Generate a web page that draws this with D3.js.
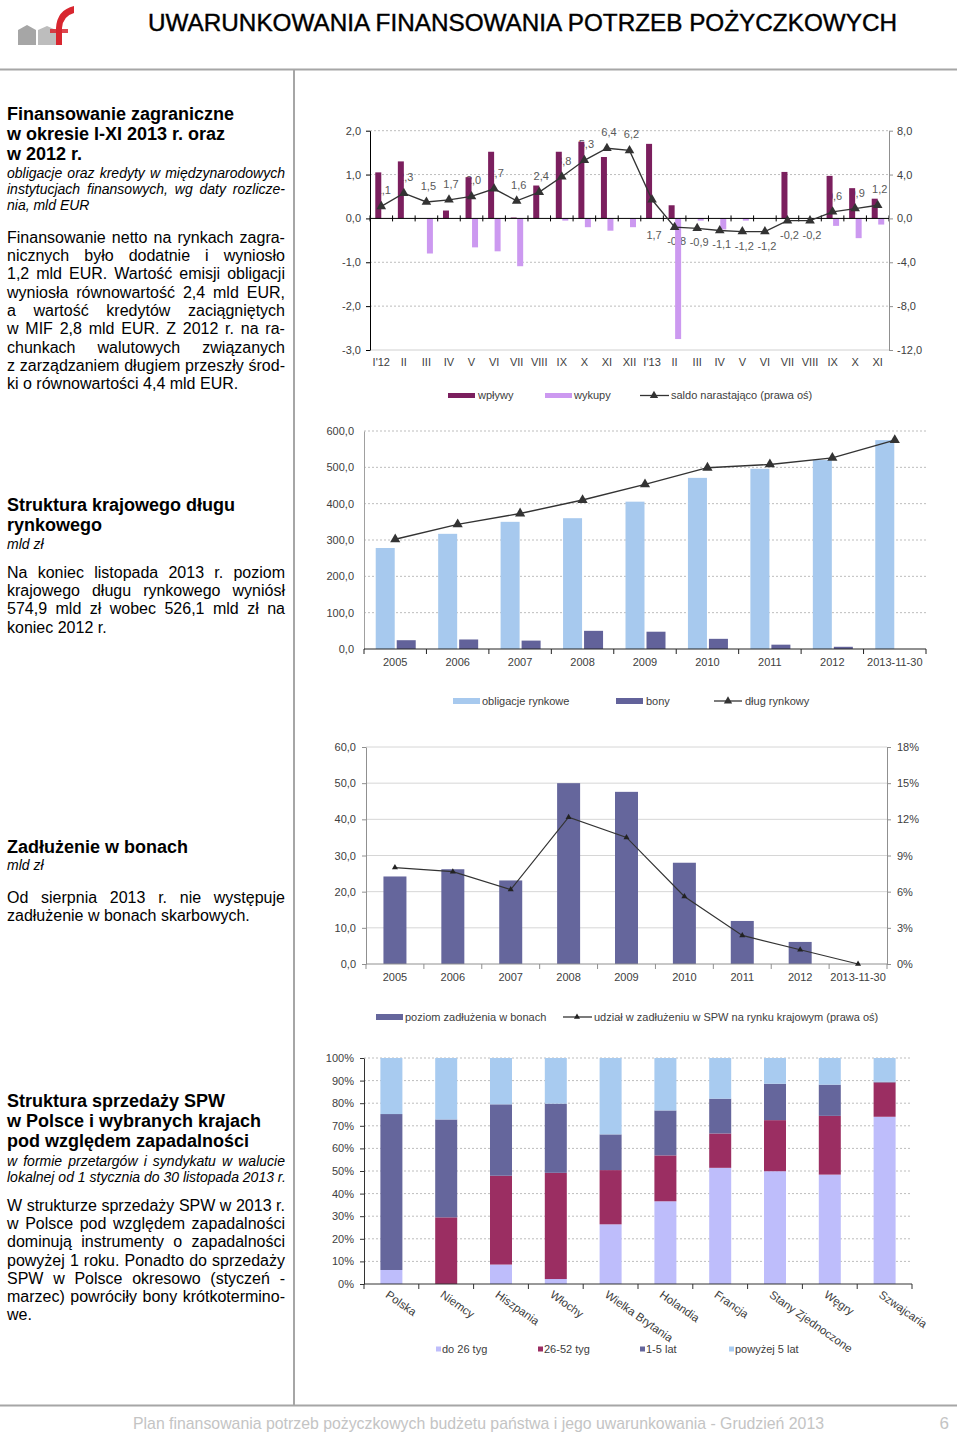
<!DOCTYPE html>
<html>
<head>
<meta charset="utf-8">
<script src="https://cdn.jsdelivr.net/npm/d3@7"></script>
<style>
  body { margin: 0; background: #fff; }
  #page { position: relative; width: 960px; height: 1433px; overflow: hidden; font-family: "Liberation Sans", Arial, sans-serif; }
  #page svg { position: absolute; left: 0; top: 0; }
  .ln { position: absolute; left: 7px; width: 278px; white-space: pre; color: #000; }
  .ln.j { display: flex; justify-content: space-between; }
  .h { font-weight: bold; font-size: 18px; line-height: 20px; }
  .i { font-style: italic; font-size: 14px; line-height: 16px; }
  .b { font-size: 16px; line-height: 18px; }
</style>
</head>
<body>
<div id="page"></div>
<script>
// ---- chart 1: finansowanie zagraniczne (mld EUR) ----
const months = ["I'12", "II", "III", "IV", "V", "VI", "VII", "VIII", "IX", "X", "XI", "XII",
  "I'13", "II", "III", "IV", "V", "VI", "VII", "VIII", "IX", "X", "XI"];
const wplywy = [1.05, 1.30, 0, 0.18, 0.94, 1.52, 0.02, 0.75, 1.52, 1.75, 1.40, 0,
  1.70, 0.30, 0, 0, 0, 0, 1.06, 0, 0.97, 0.69, 0.45];
const wykupy = [0, 0, -0.80, 0, -0.66, -0.75, -1.09, 0, -0.05, -0.20, -0.28, -0.20,
  0, -2.75, -0.05, -0.25, -0.05, 0, 0, 0, -0.17, -0.45, -0.14];
const saldo = [1.1, 2.3, 1.5, 1.7, 2.0, 2.7, 1.6, 2.4, 3.8, 5.3, 6.4, 6.2,
  1.7, -0.8, -0.9, -1.1, -1.2, -1.2, -0.2, -0.2, 0.6, 0.9, 1.2];

// ---- chart 2 & 3: dług rynkowy, bony (mld zł) ----
const years = ["2005", "2006", "2007", "2008", "2009", "2010", "2011", "2012", "2013-11-30"];
const obligacje = [278, 317, 350, 360, 405.5, 471, 496, 520, 574.9];
const bony = [24.2, 26.2, 23.1, 50.0, 47.6, 28.0, 11.9, 6.1, 0];
const dlugRynkowy = [302, 343, 373, 410, 453, 499, 508, 526.1, 574.9];
const udzialBony = [0.080, 0.0766, 0.0617, 0.1218, 0.105, 0.056, 0.0237, 0.0118, 0];

// ---- chart 4: struktura zapadalności (%) ----
const countries = ["Polska", "Niemcy", "Hiszpania", "Włochy", "Wielka Brytania", "Holandia",
  "Francja", "Stany Zjednoczone", "Węgry", "Szwajcaria"];
const do26tyg = [6.2, 0, 8.6, 2.2, 26.4, 36.6, 51.4, 49.9, 48.4, 74.0];
const tyg26do52 = [0, 29.5, 39.3, 47.0, 24.0, 20.3, 15.2, 22.6, 26.0, 15.2];
const lat1do5 = [69.0, 43.3, 31.6, 30.6, 15.8, 19.9, 15.4, 16.1, 13.8, 0.3];
const powyzej5 = [24.8, 27.2, 20.5, 20.2, 33.8, 23.2, 18.0, 11.4, 11.8, 10.5];

const FONT = '"Liberation Sans", Arial, sans-serif';
const TXT = '#404040';
const pl = d3.formatLocale({ decimal: ",", thousands: " ", grouping: [3], currency: ["", " zł"], minus: "-" });
const f1 = pl.format(".1f");
const fPct = pl.format(".0%");

const page = d3.select('#page');
const svg = page.append('svg').attr('width', 960).attr('height', 1433);

function styleAxis(sel, stroke) {
  sel.attr('font-family', FONT).attr('font-size', 11);
  sel.select('.domain').attr('stroke', stroke);
  sel.selectAll('.tick line').attr('stroke', stroke);
  sel.selectAll('.tick text').attr('fill', TXT);
}

function bandEdges(g, x, n, y0, up, down, stroke) {
  g.append('g').selectAll('line').data(d3.range(n + 1)).join('line')
    .attr('x1', i => x.range()[0] + i * x.step())
    .attr('x2', i => x.range()[0] + i * x.step())
    .attr('y1', y0 - up).attr('y2', y0 + down)
    .attr('stroke', stroke);
}

function legendText(g, x, y, t) {
  g.append('text').attr('x', x).attr('y', y).attr('font-family', FONT)
    .attr('font-size', 11).attr('fill', TXT).text(t);
}

// ---------- header / frame ----------
const logo = svg.append('g');
logo.append('path').attr('d', 'M18,45 L18,30 L27,25 L36,30 L36,45 Z').attr('fill', '#a6a6a6');
logo.append('path').attr('d', 'M38,45 L38,30 L47,26 L56,30 L56,45 Z').attr('fill', '#bdbdbd');
logo.append('path').attr('d', 'M56,45 L56,28 Q57,10 74,6 L74,13 Q63,16 62,28 L62,45 Z').attr('fill', '#d8262f');
logo.append('path').attr('d', 'M50,29 L68,29 L68,33 L50,33 Z').attr('fill', '#d8262f').attr('opacity', 0.85);

svg.append('text').attr('x', 148).attr('y', 31).attr('font-family', FONT).attr('font-size', 24)
  .attr('textLength', 749).attr('lengthAdjust', 'spacingAndGlyphs')
  .attr('fill', '#000').attr('stroke', '#000').attr('stroke-width', 0.4)
  .text('UWARUNKOWANIA FINANSOWANIA POTRZEB POŻYCZKOWYCH');

svg.append('line').attr('x1', 0).attr('x2', 957).attr('y1', 69.5).attr('y2', 69.5).attr('stroke', '#a6a6a6').attr('stroke-width', 2);
svg.append('line').attr('x1', 294).attr('x2', 294).attr('y1', 70).attr('y2', 1405).attr('stroke', '#a6a6a6').attr('stroke-width', 2);
svg.append('line').attr('x1', 0).attr('x2', 957).attr('y1', 1405.5).attr('y2', 1405.5).attr('stroke', '#a6a6a6').attr('stroke-width', 2);

svg.append('text').attr('x', 133).attr('y', 1429).attr('font-family', FONT).attr('font-size', 17)
  .attr('textLength', 691).attr('lengthAdjust', 'spacingAndGlyphs').attr('fill', '#c4c4c4')
  .text('Plan finansowania potrzeb pożyczkowych budżetu państwa i jego uwarunkowania - Grudzień 2013');
svg.append('text').attr('x', 949).attr('y', 1429).attr('font-family', FONT).attr('font-size', 17)
  .attr('text-anchor', 'end').attr('fill', '#c4c4c4').text('6');

// ---------- chart 1 ----------
{
  const g = svg.append('g');
  const x = d3.scaleBand().domain(d3.range(months.length)).range([370, 889]);
  const y = d3.scaleLinear().domain([-3, 2]).range([350, 130.7]);
  const yR = d3.scaleLinear().domain([-12, 8]).range([350, 130.7]);
  const cx = i => x(i) + x.bandwidth() / 2;
  const bw = 6;

  g.append('g').selectAll('line').data([2, 1, -1, -2]).join('line')
    .attr('x1', 370).attr('x2', 889).attr('y1', d => y(d)).attr('y2', d => y(d))
    .attr('stroke', '#bdbdbd').attr('stroke-dasharray', '2,2');
  g.append('line').attr('x1', 370).attr('x2', 889).attr('y1', y(-3)).attr('y2', y(-3)).attr('stroke', '#d0d0d0');

  // data labels sit under the bars, as in the source
  g.append('g').selectAll('text').data(saldo).join('text')
    .attr('x', (d, i) => cx(i) + 2)
    .attr('y', (d, i) => (i >= 12 && i < 20) ? Math.max(yR(d) + 14, yR(0) + 17) + 4 : yR(d) - 16 + 4)
    .attr('text-anchor', 'middle').attr('font-family', FONT).attr('font-size', 11).attr('fill', '#595959')
    .text(d => f1(d));

  g.append('g').selectAll('rect').data(wplywy).join('rect')
    .attr('x', (d, i) => cx(i) - bw).attr('width', bw)
    .attr('y', d => y(Math.max(0, d))).attr('height', d => Math.abs(y(d) - y(0)))
    .attr('fill', '#7b1f5e');
  g.append('g').selectAll('rect').data(wykupy).join('rect')
    .attr('x', (d, i) => cx(i) + 0.5).attr('width', bw)
    .attr('y', d => y(Math.max(0, d))).attr('height', d => Math.abs(y(d) - y(0)))
    .attr('fill', '#cc99f0');

  g.append('line').attr('x1', 370).attr('x2', 889).attr('y1', y(0)).attr('y2', y(0)).attr('stroke', '#000');
  bandEdges(g, x, months.length, y(0), 3, 3, '#000');

  const ax = g.append('g').attr('transform', 'translate(370,0)')
    .call(d3.axisLeft(y).tickValues([-3, -2, -1, 0, 1, 2]).tickSize(4).tickSizeOuter(0).tickPadding(5).tickFormat(f1));
  styleAxis(ax, '#000');
  const axR = g.append('g').attr('transform', 'translate(889,0)')
    .call(d3.axisRight(yR).tickValues([-12, -8, -4, 0, 4, 8]).tickSize(4).tickSizeOuter(0).tickPadding(4).tickFormat(f1));
  styleAxis(axR, '#909090');

  g.append('g').selectAll('text').data(months).join('text')
    .attr('x', (d, i) => cx(i)).attr('y', 366).attr('text-anchor', 'middle')
    .attr('font-family', FONT).attr('font-size', 11).attr('fill', TXT).text(d => d);

  const line = d3.line().x((d, i) => cx(i)).y(d => yR(d));
  g.append('path').datum(saldo).attr('d', line).attr('fill', 'none').attr('stroke', '#333').attr('stroke-width', 1.3);
  g.append('g').selectAll('path').data(saldo).join('path')
    .attr('transform', (d, i) => `translate(${cx(i)},${yR(d)})`)
    .attr('d', d3.symbol(d3.symbolTriangle, 40)).attr('fill', '#333');

  const lg = g.append('g');
  lg.append('rect').attr('x', 448).attr('y', 393).attr('width', 27).attr('height', 5).attr('fill', '#7b1f5e');
  legendText(lg, 478, 399, 'wpływy');
  lg.append('rect').attr('x', 545).attr('y', 393).attr('width', 27).attr('height', 5).attr('fill', '#cc99f0');
  legendText(lg, 574, 399, 'wykupy');
  lg.append('line').attr('x1', 640).attr('x2', 669).attr('y1', 395.5).attr('y2', 395.5).attr('stroke', '#333').attr('stroke-width', 1.3);
  lg.append('path').attr('transform', 'translate(654,395.5)').attr('d', d3.symbol(d3.symbolTriangle, 30)).attr('fill', '#333');
  legendText(lg, 671, 399, 'saldo narastająco (prawa oś)');
}

// ---------- chart 2 ----------
{
  const g = svg.append('g');
  const x = d3.scaleBand().domain(years).range([364, 926]);
  const y = d3.scaleLinear().domain([0, 600]).range([649, 431]);
  const cx = d => x(d) + x.bandwidth() / 2;

  g.append('g').selectAll('line').data([100, 200, 300, 400, 500, 600]).join('line')
    .attr('x1', 364).attr('x2', 926).attr('y1', d => y(d)).attr('y2', d => y(d))
    .attr('stroke', '#bdbdbd').attr('stroke-dasharray', '2,2');

  g.append('g').selectAll('rect').data(obligacje).join('rect')
    .attr('x', (d, i) => cx(years[i]) - 19.5).attr('width', 19)
    .attr('y', d => y(d)).attr('height', d => y(0) - y(d)).attr('fill', '#a7c9ee');
  g.append('g').selectAll('rect').data(bony).join('rect')
    .attr('x', (d, i) => cx(years[i]) + 1.5).attr('width', 19)
    .attr('y', d => y(d)).attr('height', d => y(0) - y(d)).attr('fill', '#62629a');

  const ax = g.append('g').attr('transform', 'translate(364,0)')
    .call(d3.axisLeft(y).tickValues([0, 100, 200, 300, 400, 500, 600]).tickSize(0).tickSizeOuter(0).tickPadding(10).tickFormat(f1));
  styleAxis(ax, '#a0a0a0');
  g.append('line').attr('x1', 364).attr('x2', 926).attr('y1', y(0)).attr('y2', y(0)).attr('stroke', '#222');
  bandEdges(g, x, years.length, y(0), 0, 5, '#222');

  g.append('g').selectAll('text').data(years).join('text')
    .attr('x', d => cx(d)).attr('y', 666).attr('text-anchor', 'middle')
    .attr('font-family', FONT).attr('font-size', 11).attr('fill', TXT).text(d => d);

  const line = d3.line().x((d, i) => cx(years[i])).y(d => y(d));
  g.append('path').datum(dlugRynkowy).attr('d', line).attr('fill', 'none').attr('stroke', '#333').attr('stroke-width', 1.4);
  g.append('g').selectAll('path').data(dlugRynkowy).join('path')
    .attr('transform', (d, i) => `translate(${cx(years[i])},${y(d)})`)
    .attr('d', d3.symbol(d3.symbolTriangle, 45)).attr('fill', '#333');

  const lg = g.append('g');
  lg.append('rect').attr('x', 453).attr('y', 698).attr('width', 27).attr('height', 6).attr('fill', '#a7c9ee');
  legendText(lg, 482, 705, 'obligacje rynkowe');
  lg.append('rect').attr('x', 616).attr('y', 698).attr('width', 27).attr('height', 6).attr('fill', '#62629a');
  legendText(lg, 646, 705, 'bony');
  lg.append('line').attr('x1', 714).attr('x2', 742).attr('y1', 701).attr('y2', 701).attr('stroke', '#333').attr('stroke-width', 1.3);
  lg.append('path').attr('transform', 'translate(728,701)').attr('d', d3.symbol(d3.symbolTriangle, 30)).attr('fill', '#333');
  legendText(lg, 745, 705, 'dług rynkowy');
}

// ---------- chart 3 ----------
{
  const g = svg.append('g');
  const x = d3.scaleBand().domain(years).range([366, 887]);
  const y = d3.scaleLinear().domain([0, 60]).range([964, 747]);
  const yR = d3.scaleLinear().domain([0, 0.18]).range([964, 747]);
  const cx = d => x(d) + x.bandwidth() / 2;

  g.append('g').selectAll('line').data([10, 20, 30, 40, 50, 60]).join('line')
    .attr('x1', 366).attr('x2', 887).attr('y1', d => y(d)).attr('y2', d => y(d))
    .attr('stroke', '#d6d6d6');

  g.append('g').selectAll('rect').data(bony).join('rect')
    .attr('x', (d, i) => cx(years[i]) - 11.5).attr('width', 23)
    .attr('y', d => y(d)).attr('height', d => y(0) - y(d)).attr('fill', '#65669c');

  const ax = g.append('g').attr('transform', 'translate(366,0)')
    .call(d3.axisLeft(y).tickValues([0, 10, 20, 30, 40, 50, 60]).tickSize(4).tickSizeOuter(0).tickPadding(6).tickFormat(f1));
  styleAxis(ax, '#909090');
  const axR = g.append('g').attr('transform', 'translate(887,0)')
    .call(d3.axisRight(yR).tickValues([0, 0.03, 0.06, 0.09, 0.12, 0.15, 0.18]).tickSize(4).tickSizeOuter(0).tickPadding(6).tickFormat(fPct));
  styleAxis(axR, '#909090');
  g.append('line').attr('x1', 366).attr('x2', 887).attr('y1', y(0)).attr('y2', y(0)).attr('stroke', '#909090');
  bandEdges(g, x, years.length, y(0), 0, 5, '#909090');

  g.append('g').selectAll('text').data(years).join('text')
    .attr('x', d => cx(d)).attr('y', 981).attr('text-anchor', 'middle')
    .attr('font-family', FONT).attr('font-size', 11).attr('fill', TXT).text(d => d);

  const line = d3.line().x((d, i) => cx(years[i])).y(d => yR(d));
  g.append('path').datum(udzialBony).attr('d', line).attr('fill', 'none').attr('stroke', '#333').attr('stroke-width', 1.2);
  g.append('g').selectAll('path').data(udzialBony).join('path')
    .attr('transform', (d, i) => `translate(${cx(years[i])},${yR(d)})`)
    .attr('d', d3.symbol(d3.symbolTriangle, 16)).attr('fill', '#222');

  const lg = g.append('g');
  lg.append('rect').attr('x', 376).attr('y', 1014).attr('width', 27).attr('height', 6).attr('fill', '#65669c');
  legendText(lg, 405, 1021, 'poziom zadłużenia w bonach');
  lg.append('line').attr('x1', 563).attr('x2', 592).attr('y1', 1017).attr('y2', 1017).attr('stroke', '#333').attr('stroke-width', 1.3);
  lg.append('path').attr('transform', 'translate(577,1017)').attr('d', d3.symbol(d3.symbolTriangle, 16)).attr('fill', '#222');
  legendText(lg, 594, 1021, 'udział w zadłużeniu w SPW na rynku krajowym (prawa oś)');
}

// ---------- chart 4 ----------
{
  const g = svg.append('g');
  const keys = ['do 26 tyg', '26-52 tyg', '1-5 lat', 'powyżej 5 lat'];
  const colors = ['#bebdfb', '#9b2e62', '#65669c', '#a8cbf0'];
  const series = [do26tyg, tyg26do52, lat1do5, powyzej5];
  const rows = countries.map((c, i) => {
    const r = { country: c };
    keys.forEach((k, j) => { r[k] = series[j][i]; });
    return r;
  });
  const stacked = d3.stack().keys(keys).offset(d3.stackOffsetExpand)(rows);
  const x = d3.scaleBand().domain(countries).range([364, 912]);
  const y = d3.scaleLinear().domain([0, 1]).range([1284, 1058]);
  const cx = d => x(d) + x.bandwidth() / 2;

  g.append('g').selectAll('line').data(d3.range(1, 11).map(d => d / 10)).join('line')
    .attr('x1', 364).attr('x2', 912).attr('y1', d => y(d)).attr('y2', d => y(d))
    .attr('stroke', '#bdbdbd').attr('stroke-dasharray', '2,2');

  g.append('g').selectAll('g').data(stacked).join('g')
    .attr('fill', (d, i) => colors[i])
    .selectAll('rect').data(d => d).join('rect')
    .attr('x', d => cx(d.data.country) - 11).attr('width', 22)
    .attr('y', d => y(d[1])).attr('height', d => y(d[0]) - y(d[1]));

  const ax = g.append('g').attr('transform', 'translate(364,0)')
    .call(d3.axisLeft(y).tickValues(d3.range(0, 11).map(d => d / 10)).tickSize(4).tickSizeOuter(0).tickPadding(6).tickFormat(fPct));
  styleAxis(ax, '#333');
  g.append('line').attr('x1', 364).attr('x2', 912).attr('y1', y(0)).attr('y2', y(0)).attr('stroke', '#333');
  bandEdges(g, x, countries.length, y(0), 0, 5, '#333');

  g.append('g').selectAll('text').data(countries).join('text')
    .attr('transform', d => `translate(${cx(d) - 2},${1290}) rotate(35)`)
    .attr('dy', '0.7em')
    .attr('font-family', FONT).attr('font-size', 11.5).attr('fill', TXT).text(d => d);

  const lg = g.append('g');
  const lx = [436, 538, 640, 729];
  keys.forEach((k, i) => {
    lg.append('rect').attr('x', lx[i]).attr('y', 1346.5).attr('width', 5).attr('height', 5).attr('fill', colors[i]);
    legendText(lg, lx[i] + 6, 1353, k);
  });
}

// ---------- left column text ----------
const blocks = [
  { cls: 'h', top: 114, lh: 20, lines: ["Finansowanie zagraniczne", "w okresie I-XI 2013 r. oraz", "w 2012 r."], just: false },
  { cls: 'i', top: 173, lh: 16, lines: ["obligacje oraz kredyty w międzynarodowych", "instytucjach finansowych, wg daty rozlicze-", "nia, mld EUR"], just: true },
  { cls: 'b', top: 238, lh: 18.3, lines: [
    "Finansowanie netto na rynkach zagra-",
    "nicznych było dodatnie i wyniosło",
    "1,2 mld EUR. Wartość emisji obligacji",
    "wyniosła równowartość 2,4 mld EUR,",
    "a wartość kredytów zaciągniętych",
    "w MIF 2,8 mld EUR. Z 2012 r. na ra-",
    "chunkach walutowych związanych",
    "z zarządzaniem długiem przeszły środ-",
    "ki o równowartości 4,4 mld EUR."], just: true },
  { cls: 'h', top: 505, lh: 20, lines: ["Struktura krajowego długu", "rynkowego"], just: false },
  { cls: 'i', top: 544, lh: 16, lines: ["mld zł"], just: false },
  { cls: 'b', top: 573, lh: 18.2, lines: [
    "Na koniec listopada 2013 r. poziom",
    "krajowego długu rynkowego wyniósł",
    "574,9 mld zł wobec 526,1 mld zł na",
    "koniec 2012 r."], just: true },
  { cls: 'h', top: 847, lh: 20, lines: ["Zadłużenie w bonach"], just: false },
  { cls: 'i', top: 865, lh: 16, lines: ["mld zł"], just: false },
  { cls: 'b', top: 898, lh: 18.2, lines: [
    "Od sierpnia 2013 r. nie występuje",
    "zadłużenie w bonach skarbowych."], just: true },
  { cls: 'h', top: 1101, lh: 20, lines: ["Struktura sprzedaży SPW", "w Polsce i wybranych krajach", "pod względem zapadalności"], just: false },
  { cls: 'i', top: 1161, lh: 16, lines: ["w formie przetargów i syndykatu w walucie", "lokalnej od 1 stycznia do 30 listopada 2013 r."], just: true },
  { cls: 'b', top: 1206, lh: 18.2, lines: [
    "W strukturze sprzedaży SPW w 2013 r.",
    "w Polsce pod względem zapadalności",
    "dominują instrumenty o zapadalności",
    "powyżej 1 roku.  Ponadto do sprzedaży",
    "SPW w Polsce okresowo (styczeń -",
    "marzec) powróciły bony krótkotermino-",
    "we."], just: true }
];

blocks.forEach(b => {
  b.lines.forEach((t, i) => {
    const justified = b.just && i < b.lines.length - 1;
    const div = page.append('div')
      .attr('class', `ln ${b.cls}${justified ? ' j' : ''}`)
      .style('top', (b.top + i * b.lh - b.lh / 2) + 'px');
    if (justified) {
      div.selectAll('span').data(t.split(/\s+/)).join('span').text(d => d);
    } else {
      div.text(t);
    }
  });
});
</script>
</body>
</html>
